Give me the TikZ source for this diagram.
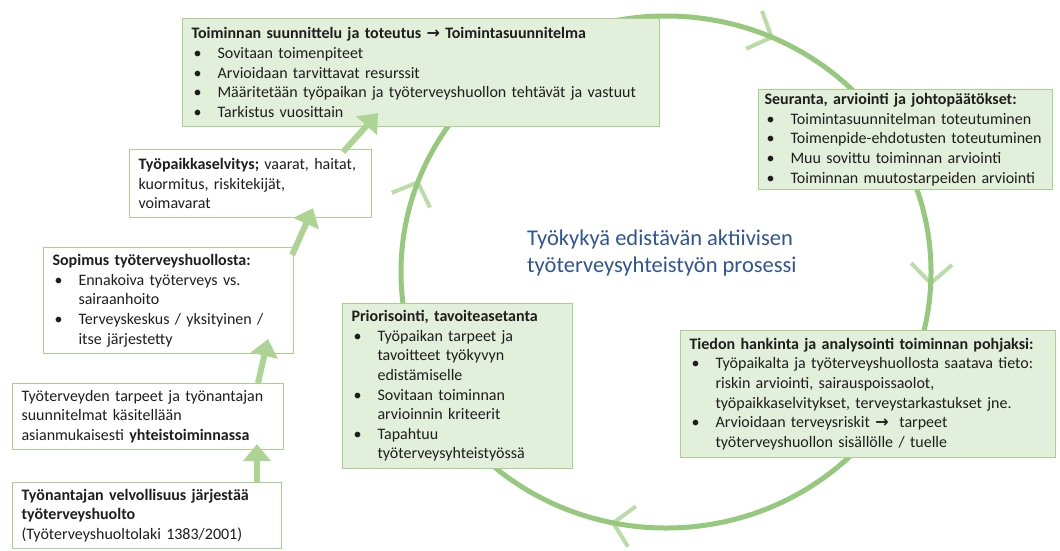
\documentclass[tikz,border=0pt]{standalone}
\usepackage{fontspec}
\setmainfont{Carlito}
\newfontfamily\symfont{DejaVu Sans}
\usetikzlibrary{arrows.meta,calc}

\definecolor{ring}{HTML}{96C87D}
\definecolor{chev}{HTML}{BBDCA8}
\definecolor{boxline}{HTML}{A9D18E}
\definecolor{boxfill}{HTML}{E2EFDA}
\definecolor{flowgreen}{HTML}{ADD495}
\definecolor{ink}{HTML}{1E1E1E}
\definecolor{headblue}{HTML}{2F5597}

\setlength{\parindent}{0pt}
\setlength{\parskip}{0pt}
\hyphenpenalty=10000
% bold arrow used inside the box texts
\newcommand\arr{{\symfont\bfseries →}}
% bullet item with hanging indent
\newcommand\bi{\par\hangindent=26pt\hangafter=1\noindent\makebox[26pt][l]{\hspace{2pt}\textbullet}}
\newcommand\nl{\hfil\break}

\begin{document}
\begin{tikzpicture}[x=1pt,y=-1pt,
  card/.style={draw=boxline, line width=1.1pt, anchor=north west, align=left,
    inner xsep=9pt, inner ysep=2pt, text=ink,
    font=\fontsize{16}{19.6}\selectfont},
  greencard/.style={card, fill=boxfill},
  whitecard/.style={card, fill=white},
  flow/.style={draw=flowgreen, line width=6pt, -{Triangle[width=27pt,length=17pt]}},
  ringline/.style={draw=ring, line width=5pt},
  chevron/.style={draw=chev, line width=4pt},
]
\useasboundingbox[fill=white] (0,0) rectangle (1060,550);

% process cycle with its direction marks
\foreach \t in {-66.5,2.5,101.5,200.5}{
  \pgfmathsetmacro\px{666+265*cos(\t)}
  \pgfmathsetmacro\py{272+256*sin(\t)}
  \pgfmathsetmacro\bk{atan2(-256*cos(\t),265*sin(\t))}
  \draw[chevron] ({\px+28*cos(\bk+47)},{\py+28*sin(\bk+47)}) -- (\px,\py)
                 -- ({\px+28*cos(\bk-47)},{\py+28*sin(\bk-47)});
}
\draw[ringline] (666,272) ellipse [x radius=265pt, y radius=256pt];

% cycle stages
\node[greencard, text width=459pt, minimum height=108pt] (plan) at (182,18) {%
\textbf{Toiminnan suunnittelu ja toteutus \arr{} Toimintasuunnitelma}%
\bi Sovitaan toimenpiteet%
\bi Arvioidaan tarvittavat resurssit%
\bi Määritetään työpaikan ja työterveyshuollon tehtävät ja vastuut%
\bi Tarkistus vuosittain\par};

\node[greencard, inner xsep=6pt, text width=282pt, minimum height=100pt] (follow) at (758,89) {%
\textbf{Seuranta, arviointi ja johtopäätökset:}%
\bi Toimintasuunnitelman toteutuminen%
\bi Toimenpide-ehdotusten toteutuminen%
\bi Muu sovittu toiminnan arviointi%
\bi Toiminnan muutostarpeiden arviointi\par};

\node[greencard, text width=357pt, minimum height=127pt] (info) at (680,330) {%
\textbf{Tiedon hankinta ja analysointi toiminnan pohjaksi:}%
\bi Työpaikalta ja työterveyshuollosta saatava tieto:\nl riskin arviointi, sairauspoissaolot,\nl työpaikkaselvitykset, terveystarkastukset jne.%
\bi Arvioidaan terveysriskit \arr{}\ \ tarpeet\nl työterveyshuollon sisällölle / tuelle\par};

\node[greencard, text width=212pt, minimum height=165pt] (prio) at (342,303) {%
\textbf{Priorisointi, tavoiteasetanta}%
\bi Työpaikan tarpeet ja\nl tavoitteet työkyvyn\nl edistämiselle%
\bi Sovitaan toiminnan\nl arvioinnin kriteerit%
\bi Tapahtuu\nl työterveysyhteistyössä\par};

% steps leading into the cycle
\node[whitecard, text width=224pt, minimum height=68pt] (survey) at (129,149) {%
\textbf{Työpaikkaselvitys;} vaarat, haitat,\nl kuormitus, riskitekijät,\nl voimavarat\par};

\node[whitecard, text width=232pt, minimum height=106pt] (contract) at (43,247) {%
\textbf{Sopimus työterveyshuollosta:}%
\bi Ennakoiva työterveys vs.\nl sairaanhoito%
\bi Terveyskeskus / yksityinen /\nl itse järjestetty\par};

\node[whitecard, text width=253pt, minimum height=66pt] (coop) at (12,383) {%
Työterveyden tarpeet ja työnantajan\nl suunnitelmat käsitellään\nl asianmukaisesti \textbf{yhteistoiminnassa}\par};

\node[whitecard, text width=251pt, minimum height=66pt] (duty) at (12,482) {%
\textbf{Työnantajan velvollisuus järjestää\nl työterveyshuolto}\nl (Työterveyshuoltolaki 1383/2001)\par};

% upward flow between the steps
\draw[flow] ([xshift=245pt]duty.north west) -- ([xshift=245pt,yshift=6pt]coop.south west);
\draw[flow] ([xshift=246pt]coop.north west) -- ([xshift=225pt,yshift=15pt]contract.south west);
\draw[flow] ([xshift=-2pt,yshift=-8pt]contract.north east) -- ([xshift=184pt,yshift=10pt]survey.south west);
\draw[flow] ([xshift=214pt,yshift=-3pt]survey.north west) -- ([xshift=196pt,yshift=14pt]plan.south west);

% caption in the middle of the cycle
\node[anchor=west, align=left, inner xsep=0pt, text=headblue, font=\fontsize{22.5}{27}\selectfont] (caption) at (527,253)
  {Työkykyä edistävän aktiivisen\\työterveysyhteistyön prosessi};
\end{tikzpicture}
\end{document}
